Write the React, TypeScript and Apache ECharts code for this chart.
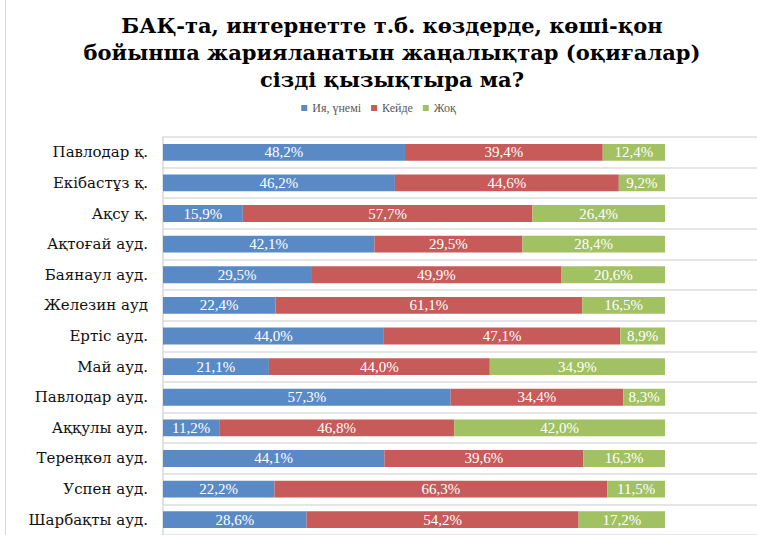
import React, { useEffect, useRef } from "react";
import * as echarts from "echarts";

const categories = [
  "Павлодар қ.",
  "Екібастұз қ.",
  "Ақсу қ.",
  "Ақтоғай ауд.",
  "Баянаул ауд.",
  "Железин ауд",
  "Ертіс ауд.",
  "Май ауд.",
  "Павлодар ауд.",
  "Аққулы ауд.",
  "Тереңкөл ауд.",
  "Успен ауд.",
  "Шарбақты ауд.",
];
const seriesNames = ["Ия, үнемі", "Кейде", "Жоқ"];
const yesAlways = [48.2, 46.2, 15.9, 42.1, 29.5, 22.4, 44.0, 21.1, 57.3, 11.2, 44.1, 22.2, 28.6];
const sometimes = [39.4, 44.6, 57.7, 29.5, 49.9, 61.1, 47.1, 44.0, 34.4, 46.8, 39.6, 66.3, 54.2];
const no = [12.4, 9.2, 26.4, 28.4, 20.6, 16.5, 8.9, 34.9, 8.3, 42.0, 16.3, 11.5, 17.2];
const colors = ["#5A8AC6", "#C65B59", "#A2C163"];
const titleText = "БАҚ-та, интернетте т.б. көздерде, көші-қон\nбойынша жарияланатын жаңалықтар (оқиғалар)\nсізді қызықтыра ма?";

export default function App() {
  const ref = useRef<HTMLDivElement>(null);
  useEffect(() => {
    if (!ref.current) return;
    const chart = echarts.init(ref.current, null, { renderer: "svg" });
    const fmt = (p: any) => p.value.toFixed(1).replace(".", ",") + "%";
    const mk = (name: string, data: number[], i: number) => ({
      name,
      type: "bar",
      stack: "total",
      data,
      barWidth: "55%",
      itemStyle: { color: colors[i] },
      label: {
        show: true,
        position: "inside",
        color: "#fff",
        fontSize: 15,
        fontFamily: "Liberation Serif",
        formatter: fmt,
      },
    });
    chart.setOption({
      animation: false,
      backgroundColor: "#fff",
      title: {
        text: titleText,
        left: 387,
        textAlign: "center",
        top: 7,
        textStyle: {
          fontFamily: "DejaVu Serif",
          fontWeight: "bold",
          fontSize: 21,
          lineHeight: 27,
          color: "#000",
        },
      },
      legend: {
        data: seriesNames,
        top: 97,
        left: "center",
        icon: "rect",
        itemWidth: 6,
        itemHeight: 6,
        itemGap: 10,
        textStyle: { fontFamily: "Liberation Serif", fontSize: 12, color: "#595959" },
      },
      grid: { left: 163, top: 137, right: 0, height: 401.4 },
      xAxis: {
        type: "value",
        min: 0,
        max: 118.33,
        show: false,
        splitLine: { show: false },
      },
      yAxis: {
        type: "category",
        data: categories,
        inverse: true,
        axisTick: { show: false },
        axisLine: { show: true, lineStyle: { color: "#D9D9D9", width: 1.5 } },
        splitLine: { show: true, lineStyle: { color: "#DCDCDC", width: 1.5 } },
        axisLabel: {
          fontFamily: "DejaVu Serif",
          fontSize: 15,
          color: "#111",
          margin: 15,
        },
      },
      graphic: [
        {
          type: "line",
          shape: { x1: 5.5, y1: 0, x2: 5.5, y2: 535 },
          style: { stroke: "#D9D9D9", lineWidth: 1 },
        },
      ],
      series: [mk(seriesNames[0], yesAlways, 0), mk(seriesNames[1], sometimes, 1), mk(seriesNames[2], no, 2)],
    });
    return () => chart.dispose();
  }, []);
  return (
    <div
      ref={ref}
      style={{ position: "fixed", left: 0, top: 0, width: 757, height: 535 }}
    />
  );
}
